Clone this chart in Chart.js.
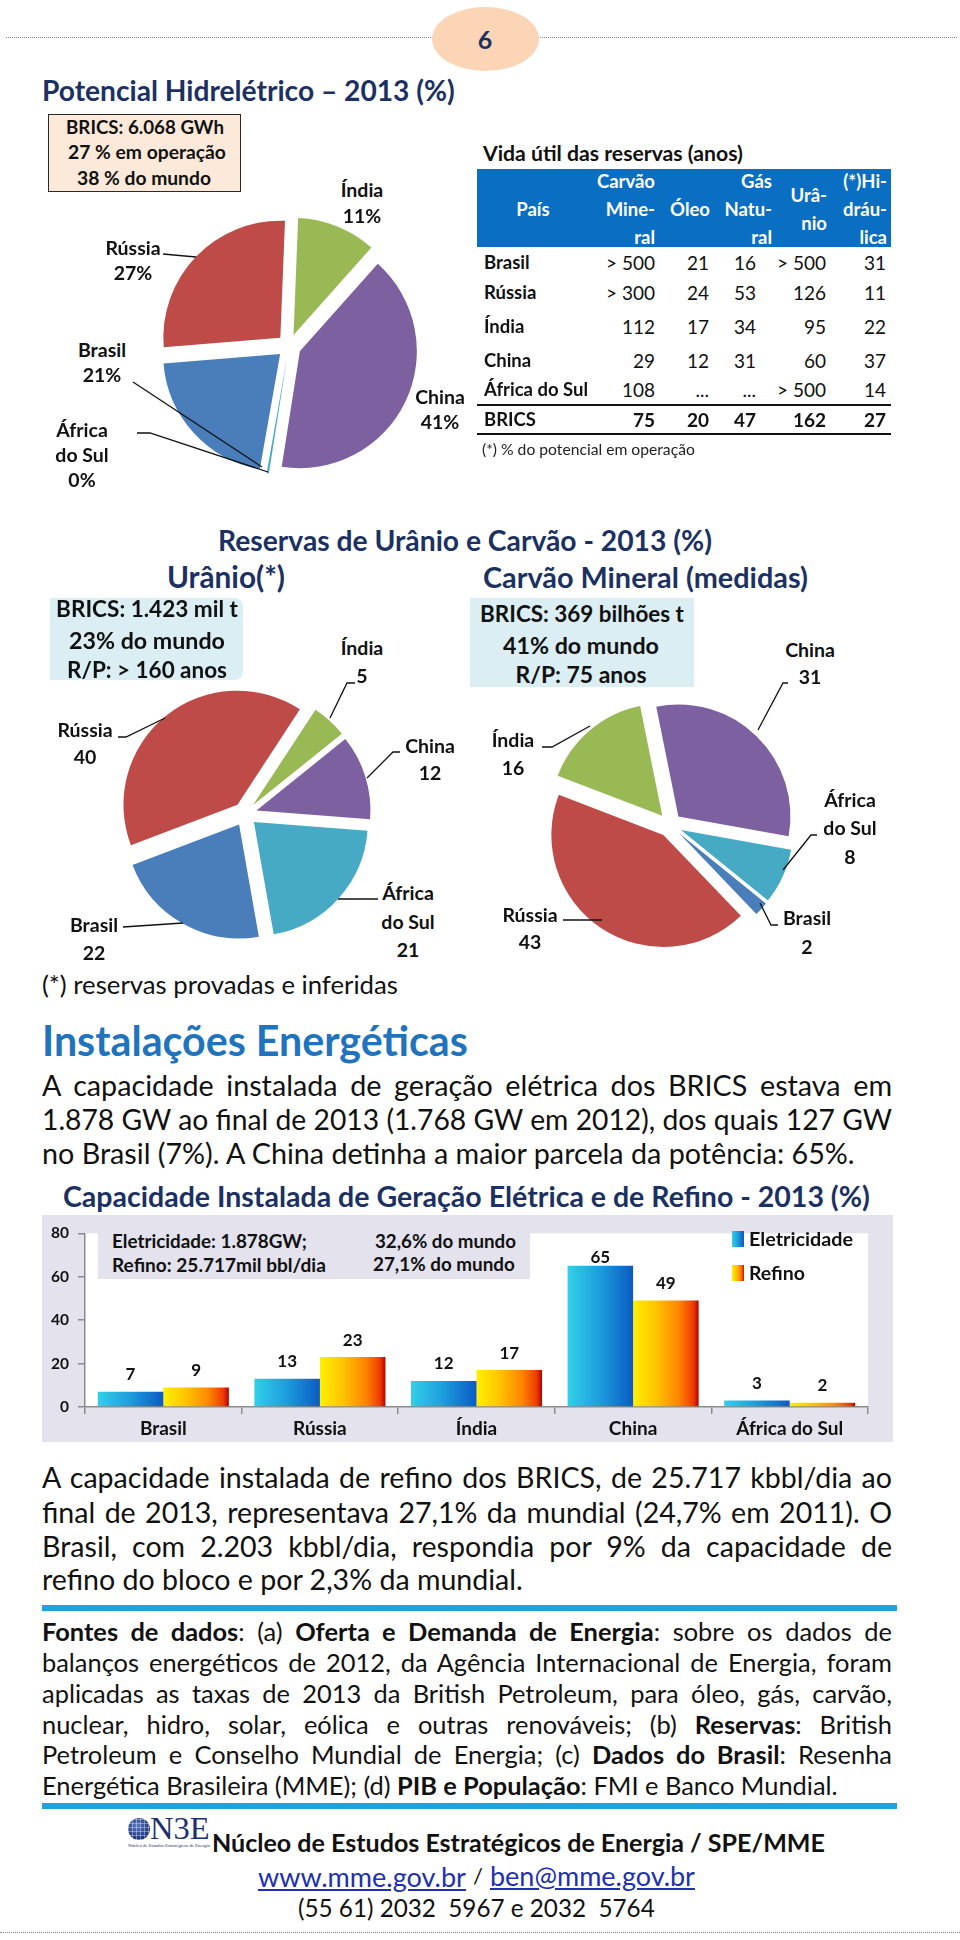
<!DOCTYPE html>
<html lang="pt-BR"><head><meta charset="utf-8">
<title>BRICS - Energia</title>
<script src="https://cdn.jsdelivr.net/npm/chart.js@4.4.1/dist/chart.umd.min.js"></script>
<style>
html,body{margin:0;padding:0;background:#fff}
body{width:960px;height:1940px;position:relative;overflow:hidden;font-family:Lato,"Open Sans",sans-serif;color:#111}
.a{position:absolute;white-space:nowrap;line-height:1}
.r{position:absolute;box-sizing:border-box}
canvas{position:absolute}
svg{position:absolute;left:0;top:0;pointer-events:none}
</style></head><body>
<script>
// ---------------- DATA ----------------
const countries = ['Brasil', 'Rússia', 'Índia', 'China', 'África do Sul'];
const hidroValues = [21, 27, 11, 41, 0.3];     // Potencial hidrelétrico (%) — África do Sul ≈ 0
const uranioValues = [22, 40, 5, 12, 21];       // Reservas de urânio (%)
const carvaoValues = [2, 43, 16, 31, 8];        // Reservas de carvão mineral (%)
const barCategories = ['Brasil', 'Rússia', 'Índia', 'China', 'África do Sul'];
const eletricidade = [7, 13, 12, 65, 3];
const refino = [9, 23, 17, 49, 2];
const yTicks = [0, 20, 40, 60, 80];
const tableCountries = ['Brasil', 'Rússia', 'Índia', 'China', 'África do Sul', 'BRICS'];
const carvaoAnos = ['> 500', '> 300', '112', '29', '108', '75'];
const oleoAnos = ['21', '24', '17', '12', '...', '20'];
const gasAnos = ['16', '53', '34', '31', '...', '47'];
const uranioAnos = ['> 500', '126', '95', '60', '> 500', '162'];
const hidraulicaPct = ['31', '11', '22', '37', '14', '27'];

// ---------------- STYLE ----------------
const NAVY = '#1c3163';
const pieColors = ['#4a7ebb', '#be4b48', '#98b954', '#7d60a0', '#46aac5'];
const EXPLODE = 12;
const gradStops = [
  [[0, '#33d0e8'], [0.5, '#1c9cdc'], [1, '#0b5bc2']],
  [[0, '#fff000'], [0.35, '#ffc400'], [0.7, '#ff8400'], [0.92, '#ee3a00'], [1, '#b00000']]
];
Chart.defaults.font.family = 'Lato';
const body = document.body;

function R(x, y, w, h, st) {
  const d = document.createElement('div'); d.className = 'r';
  Object.assign(d.style, {left: x + 'px', top: y + 'px', width: w + 'px', height: h + 'px'}, st || {});
  body.appendChild(d); return d;
}
function T(html, x, cy, fs, o) {
  o = o || {};
  const d = document.createElement('div'); d.className = 'a'; d.innerHTML = html;
  d.style.fontSize = fs + 'px'; d.style.fontWeight = o.b ? '700' : '400';
  if (o.c) d.style.color = o.c;
  if (o.css) Object.assign(d.style, o.css);
  body.appendChild(d);
  let f = fs;
  if (o.w) {
    const w0 = d.getBoundingClientRect().width;
    f = Math.max(fs * 0.8, Math.min(fs * 1.25, fs * o.w / w0));
    d.style.fontSize = f + 'px';
  }
  const w = d.getBoundingClientRect().width;
  const al = o.al || 'l';
  d.style.left = (al === 'l' ? x : al === 'c' ? x - w / 2 : x - w) + 'px';
  d.style.top = (cy - 0.53 * f) + 'px';
  return d;
}
function para(lines, x, w, cys, fs, lastW) {
  const probe = T(lines[lines.length - 1], x, cys[cys.length - 1], fs, {w: lastW});
  const f = parseFloat(probe.style.fontSize);
  for (let i = 0; i < lines.length - 1; i++) {
    const d = document.createElement('div'); d.className = 'a'; d.innerHTML = lines[i];
    d.style.fontSize = f + 'px'; body.appendChild(d);
    let fl = f; const nw = d.getBoundingClientRect().width;
    if (nw > w - 1) { fl = f * (w - 1) / nw; d.style.fontSize = fl + 'px'; }
    Object.assign(d.style, {whiteSpace: 'normal', width: w + 'px', textAlign: 'justify', textAlignLast: 'justify',
      left: x + 'px', top: (cys[i] - 0.53 * fl) + 'px'});
  }
}

// ---------------- HEADER ----------------
R(6, 37, 951, 1, {borderTop: '1px dotted #8a8a8a', height: '0px'});
R(432, 7, 107, 64, {borderRadius: '50%', background: '#fbd5b6'});
T('6', 485, 40, 25, {b: 1, c: NAVY, al: 'c'});

// ---------------- PIES ----------------
// exploded slices: each arc is drawn by the library, shifted outward along its mid-angle
const explodePlugin = {
  id: 'explode',
  beforeDatasetDraw(chart, args) {
    const ctx = chart.ctx;
    args.meta.data.forEach(arc => {
      const mid = (arc.startAngle + arc.endAngle) / 2;
      ctx.save();
      ctx.translate(Math.cos(mid) * EXPLODE, Math.sin(mid) * EXPLODE);
      arc.draw(ctx);
      ctx.restore();
    });
    return false;
  }
};
function pie(values, cx, cy, r, rot) {
  const size = 2 * (r + EXPLODE + 10);
  const c = document.createElement('canvas');
  c.width = size; c.height = size;
  Object.assign(c.style, {left: (cx - size / 2) + 'px', top: (cy - size / 2) + 'px', width: size + 'px', height: size + 'px'});
  body.appendChild(c);
  new Chart(c, {
    type: 'pie',
    data: {labels: countries, datasets: [{data: values, backgroundColor: pieColors, borderWidth: 0, offset: 0, hoverOffset: 0}]},
    options: {responsive: false, animation: false, events: [], rotation: rot, radius: r,
      plugins: {legend: {display: false}, tooltip: {enabled: false}}},
    plugins: [explodePlugin]
  });
}
pie(hidroValues, 289, 346, 117, 190);
pie(uranioValues, 245, 814, 114, 170);
pie(carvaoValues, 670, 825, 112, 129);

// ---------------- TOP-LEFT ----------------
T('Potencial Hidrelétrico – 2013 (%)', 42, 91, 28, {b: 1, c: NAVY, w: 413});
R(48, 114, 193, 78, {background: '#fde9d9', border: '1.5px solid #2a2a2a'});
T('BRICS: 6.068 GWh', 145, 128, 20, {b: 1, al: 'c', w: 158});
T('27 % em operação', 147, 152, 20, {b: 1, al: 'c', w: 158});
T('38 % do mundo', 144, 178, 20, {b: 1, al: 'c', w: 134});

function pieLabels(pos, values, suffix) {
  countries.forEach((name, i) => {
    const parts = name === 'África do Sul' ? ['África', 'do Sul'] : [name];
    parts.push(Math.round(values[i]) + suffix);
    parts.forEach((t, k) => T(t, pos[i].x, pos[i].ys[k], 19.5, {b: 1, al: 'c'}));
  });
}
pieLabels([{x: 102, ys: [350, 375]}, {x: 133, ys: [248, 273]}, {x: 362, ys: [190, 216]}, {x: 440, ys: [397, 422]}, {x: 82, ys: [430, 455, 480]}], hidroValues, '%');

// ---------------- TABLE ----------------
T('Vida útil das reservas (anos)', 483, 154, 20, {b: 1, w: 260});
R(477, 169, 414, 78, {background: '#0a6fc2'});
const W = '#ffffff';
T('País', 533, 210, 18.5, {b: 1, c: W, al: 'c'});
T('Carvão', 655, 182, 18.5, {b: 1, c: W, al: 'r'});
T('Mine-', 655, 210, 18.5, {b: 1, c: W, al: 'r'});
T('ral', 655, 238, 18.5, {b: 1, c: W, al: 'r'});
T('Óleo', 710, 210, 18.5, {b: 1, c: W, al: 'r'});
T('Gás', 772, 182, 18.5, {b: 1, c: W, al: 'r'});
T('Natu-', 772, 210, 18.5, {b: 1, c: W, al: 'r'});
T('ral', 772, 238, 18.5, {b: 1, c: W, al: 'r'});
T('Urâ-', 827, 196, 18.5, {b: 1, c: W, al: 'r'});
T('nio', 827, 224, 18.5, {b: 1, c: W, al: 'r'});
T('(*)Hi-', 887, 182, 18.5, {b: 1, c: W, al: 'r'});
T('dráu-', 887, 210, 18.5, {b: 1, c: W, al: 'r'});
T('lica', 887, 238, 18.5, {b: 1, c: W, al: 'r'});
const rowCy = [263, 293, 327, 361, 390, 420];
const colRight = [655, 709, 756, 826, 886];
const cols = [carvaoAnos, oleoAnos, gasAnos, uranioAnos, hidraulicaPct];
tableCountries.forEach((nm, i) => {
  const bold = nm === 'BRICS';
  T(nm, 484, rowCy[i], 18.5, {b: 1});
  cols.forEach((col, j) => T(col[i], colRight[j], rowCy[i], 19, {b: bold ? 1 : 0, al: 'r'}));
});
R(477, 404, 414, 2, {background: '#111'});
R(477, 433, 414, 2, {background: '#111'});
T('(*) % do potencial em operação', 482, 450, 15, {c: '#222', w: 213});

// ---------------- RESERVAS ----------------
T('Reservas de Urânio e Carvão - 2013 (%)', 218, 541, 26, {b: 1, c: NAVY, w: 494});
T('Urânio(*)', 167, 578, 26, {b: 1, c: NAVY, w: 118});
T('Carvão Mineral (medidas)', 483, 578, 26, {b: 1, c: NAVY, w: 325});
R(50, 598, 193, 82, {background: '#dbeef4', borderRadius: '0 8px 8px 0'});
T('BRICS: 1.423 mil t', 147, 610, 20, {b: 1, al: 'c', w: 182});
T('23% do mundo', 147, 641, 20, {b: 1, al: 'c', w: 156});
T('R/P: &gt; 160 anos', 147, 671, 20, {b: 1, al: 'c', w: 160});
R(470, 598, 224, 89, {background: '#dbeef4'});
T('BRICS: 369 bilhões t', 582, 615, 20, {b: 1, al: 'c', w: 204});
T('41% do mundo', 581, 646, 20, {b: 1, al: 'c', w: 156});
T('R/P: 75 anos', 581, 675, 20, {b: 1, al: 'c', w: 131});
pieLabels([{x: 94, ys: [925, 953]}, {x: 85, ys: [730, 757]}, {x: 362, ys: [648, 676]}, {x: 430, ys: [746, 773]}, {x: 408, ys: [893, 922, 950]}], uranioValues, '');
pieLabels([{x: 807, ys: [918, 947]}, {x: 530, ys: [915, 942]}, {x: 513, ys: [740, 768]}, {x: 810, ys: [650, 677]}, {x: 850, ys: [800, 828, 857]}], carvaoValues, '');
T('(*) reservas provadas e inferidas', 42, 986, 23, {w: 356});

// ---------------- INSTALAÇÕES ----------------
T('Instalações Energéticas', 42, 1042, 34, {b: 1, c: '#1f74bd', w: 426});
para(['A capacidade instalada de geração elétrica dos BRICS estava em',
      '1.878 GW ao final de 2013 (1.768 GW em 2012), dos quais 127 GW',
      'no Brasil (7%). A China detinha a maior parcela da potência: 65%.'],
     42, 850, [1086, 1120, 1154], 25, 813);

// ---------------- BAR CHART ----------------
T('Capacidade Instalada de Geração Elétrica e de Refino - 2013 (%)', 63, 1197, 25, {b: 1, c: NAVY, w: 807});
const bc = document.createElement('canvas');
bc.width = 851; bc.height = 227;
Object.assign(bc.style, {left: '42px', top: '1215px', width: '851px', height: '227px', background: '#e3e2ed'});
body.appendChild(bc);
const barFx = {
  id: 'barFx',
  beforeDraw(chart) {
    const {ctx, chartArea: a} = chart;
    ctx.save(); ctx.fillStyle = '#ffffff'; ctx.fillRect(a.left, a.top, a.right - a.left, a.bottom - a.top); ctx.restore();
  },
  beforeDatasetsDraw(chart) {
    const ctx = chart.ctx;
    chart.data.datasets.forEach((ds, i) => {
      chart.getDatasetMeta(i).data.forEach(el => {
        const g = ctx.createLinearGradient(el.x - el.width / 2, 0, el.x + el.width / 2, 0);
        gradStops[i].forEach(s => g.addColorStop(s[0], s[1]));
        el.options.backgroundColor = g;
      });
    });
  },
  afterDatasetsDraw(chart) {
    const {ctx, chartArea: a} = chart;
    ctx.save(); ctx.font = '700 17px Lato'; ctx.fillStyle = '#111'; ctx.textAlign = 'center'; ctx.textBaseline = 'middle';
    chart.data.datasets.forEach((ds, i) => {
      chart.getDatasetMeta(i).data.forEach((el, j) => {
        ctx.fillText(String(ds.data[j]), el.x, Math.max(el.y - 17, a.top + 24));
      });
    });
    ctx.restore();
  }
};
new Chart(bc, {
  type: 'bar',
  data: {labels: barCategories, datasets: [
    {label: 'Eletricidade', data: eletricidade, backgroundColor: () => '#1c9cdc', borderWidth: 0},
    {label: 'Refino', data: refino, backgroundColor: () => '#ff9a00', borderWidth: 0}
  ]},
  options: {
    responsive: false, animation: false, events: [],
    layout: {padding: {top: 13, right: 25, left: 0, bottom: 0}},
    datasets: {bar: {categoryPercentage: 0.837, barPercentage: 1}},
    plugins: {legend: {display: false}, tooltip: {enabled: false}},
    scales: {
      x: {grid: {drawOnChartArea: false, offset: true, tickLength: 7, color: '#8c8c8c', lineWidth: 1.5},
          border: {color: '#8c8c8c', width: 1.5},
          ticks: {font: {family: 'Lato', weight: 'bold', size: 19}, color: '#111', padding: 3},
          afterFit(s) { s.height = 35; }},
      y: {min: 0, max: 80,
          grid: {drawOnChartArea: false, tickLength: 7, color: '#8c8c8c', lineWidth: 1.5},
          border: {color: '#8c8c8c', width: 1.5},
          ticks: {font: {family: 'Lato', weight: 'bold', size: 15.5}, color: '#111', padding: 9},
          afterBuildTicks(s) { s.ticks = yTicks.map(v => ({value: v})); },
          afterFit(s) { s.width = 43; }}
    }
  },
  plugins: [barFx]
});
R(98, 1228, 432, 51, {background: '#e3e2ed'});
T('Eletricidade: 1.878GW;', 112, 1242, 18, {b: 1, w: 195});
T('Refino: 25.717mil bbl/dia', 112, 1265, 18, {b: 1, w: 214});
T('32,6% do mundo', 375, 1242, 18, {b: 1, w: 141});
T('27,1% do mundo', 373, 1265, 18, {b: 1, w: 142});
function sw(y, i) {
  R(732, y, 12, 16, {background: 'linear-gradient(to right,' + gradStops[i].map(s => s[1] + ' ' + (s[0] * 100) + '%').join(',') + ')'});
}
sw(1231, 0); sw(1265, 1);
T('Eletricidade', 749, 1239, 19, {b: 1, w: 104});
T('Refino', 749, 1273, 19, {b: 1, w: 56});

// ---------------- TEXT BELOW ----------------
para(['A capacidade instalada de refino dos BRICS, de 25.717 kbbl/dia ao',
      'final de 2013, representava 27,1% da mundial (24,7% em 2011). O',
      'Brasil, com 2.203 kbbl/dia, respondia por 9% da capacidade de',
      'refino do bloco e por 2,3% da mundial.'],
     42, 850, [1478, 1513, 1547, 1580], 25, 481);
R(42, 1605, 855, 6, {background: '#1fa3dc'});
para(['<b>Fontes de dados</b>: (a) <b>Oferta e Demanda de Energia</b>: sobre os dados de',
      'balanços energéticos de 2012, da Agência Internacional de Energia, foram',
      'aplicadas as taxas de 2013 da British Petroleum, para óleo, gás, carvão,',
      'nuclear, hidro, solar, eólica e outras renováveis; (b) <b>Reservas</b>: British',
      'Petroleum e Conselho Mundial de Energia; (c) <b>Dados do Brasil</b>: Resenha',
      'Energética Brasileira (MME); (d) <b>PIB e População</b>: FMI e Banco Mundial.'],
     42, 850, [1632, 1663, 1694, 1725, 1755, 1786], 22, 796);
R(42, 1803, 855, 6, {background: '#1fa3dc'});

// ---------------- FOOTER ----------------
R(128, 1818, 22, 22, {borderRadius: '50%',
  background: 'repeating-linear-gradient(0deg, rgba(255,255,255,0.35) 0 1px, transparent 1px 4px), repeating-linear-gradient(90deg, rgba(255,255,255,0.35) 0 1px, transparent 1px 4px), radial-gradient(circle at 40% 35%, #5a7bc0, #1b2f6e 75%)'});
T('N3E', 150, 1829, 26, {c: '#1c2f6e', w: 62, css: {fontFamily: '"Liberation Serif", "DejaVu Serif", serif'}});
T('Núcleo de Estudos Estratégicos de Energia', 128, 1847, 4, {c: '#1c2f6e', w: 82, css: {fontFamily: '"Liberation Serif", serif'}});
T('Núcleo de Estudos Estratégicos de Energia / SPE/MME', 212, 1843, 22, {b: 1, w: 613});
T('<u>www.mme.gov.br</u>', 258, 1877, 22, {c: '#2030b0', w: 208});
T('/', 478, 1877, 22, {al: 'c'});
T('<u>ben@mme.gov.br</u>', 490, 1877, 22, {c: '#2030b0', w: 205});
T('(55 61) 2032&nbsp; 5967 e 2032&nbsp; 5764', 298, 1909, 22, {w: 357});
R(0, 1932, 960, 1, {borderTop: '1px dotted #8a8a8a', height: '0px'});

// ---------------- LEADER LINES ----------------
const leaderLines = [
  [[163, 254], [196, 257]], [[133, 382], [262, 467]], [[137, 433], [150, 433], [268, 472]],
  [[355, 683], [347, 683], [330, 718]], [[400, 752], [393, 752], [367, 778]], [[378, 899], [338, 899]],
  [[123, 927], [183, 923]], [[118, 737], [126, 737], [165, 718]],
  [[788, 683], [783, 683], [758, 730]], [[817, 835], [811, 835], [783, 870]], [[778, 925], [771, 925], [760, 903]],
  [[542, 747], [552, 747], [590, 726]], [[563, 920], [602, 920]]
];
const NS = 'http://www.w3.org/2000/svg';
const svg = document.createElementNS(NS, 'svg');
svg.setAttribute('width', '960'); svg.setAttribute('height', '1940');
leaderLines.forEach(pts => {
  const p = document.createElementNS(NS, 'polyline');
  p.setAttribute('points', pts.map(q => q.join(',')).join(' '));
  p.setAttribute('fill', 'none'); p.setAttribute('stroke', '#111'); p.setAttribute('stroke-width', '1.3');
  svg.appendChild(p);
});
body.appendChild(svg);
</script>
</body></html>
